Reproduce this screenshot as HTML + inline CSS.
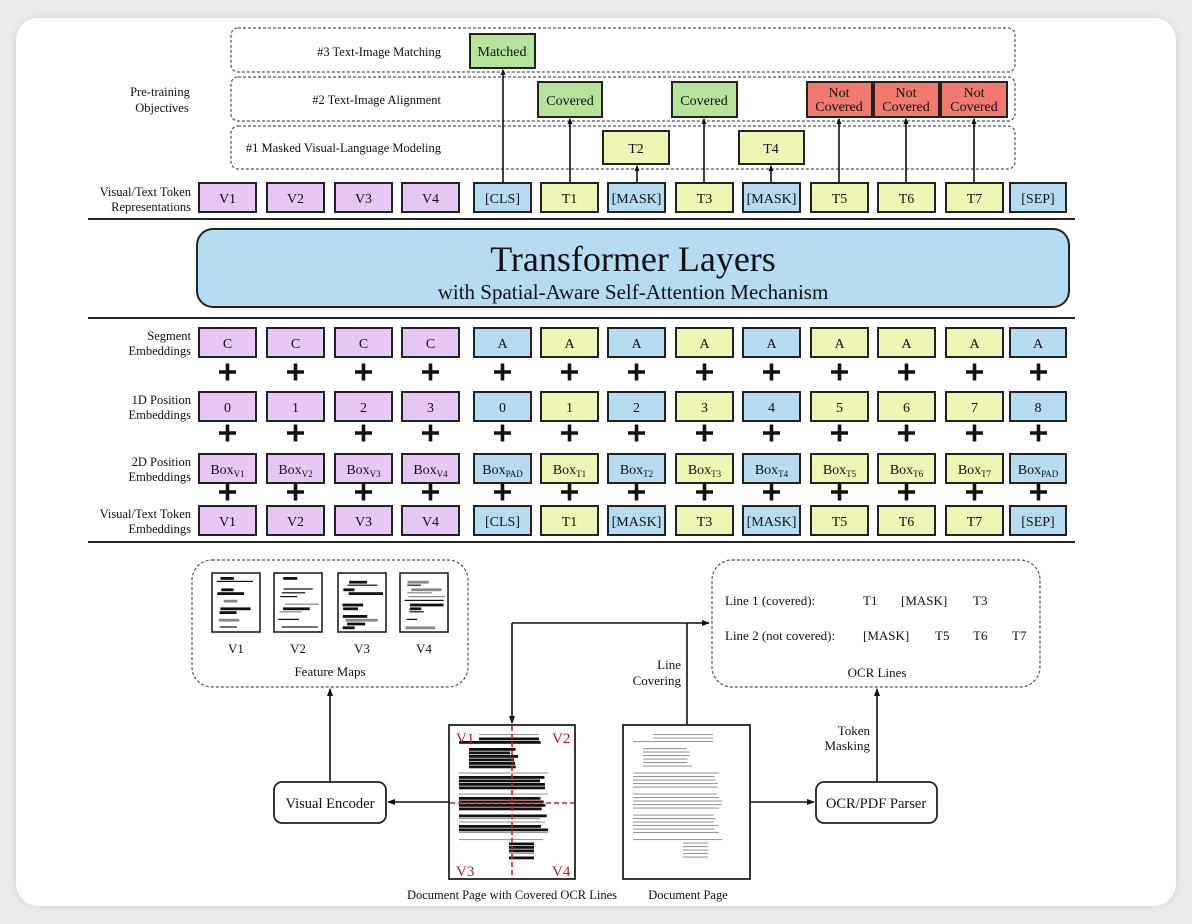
<!DOCTYPE html>
<html><head><meta charset="utf-8"><style>
html,body{margin:0;padding:0;background:#ececec;}
.card{position:absolute;left:16px;top:18px;width:1160px;height:888px;background:#fff;border-radius:22px;box-shadow:0 0 8px rgba(0,0,0,0.12);}
svg{position:absolute;left:0;top:0;}
text{font-family:"Liberation Serif",serif;fill:#111;}
</style></head><body>
<div class="card"></div>
<svg width="1192" height="924" viewBox="0 0 1192 924">
<defs>
<marker id="ah" markerWidth="8" markerHeight="8" refX="7" refY="4" orient="auto" markerUnits="userSpaceOnUse"><path d="M0,1 L8,4 L0,7 z" fill="#111"/></marker>
<marker id="as" markerWidth="6" markerHeight="6" refX="5" refY="3" orient="auto" markerUnits="userSpaceOnUse"><path d="M0,0.5 L6,3 L0,5.5 z" fill="#111"/></marker>
</defs>
<g fill="none" stroke="#555" stroke-width="1.2" stroke-dasharray="3,2">
<rect x="231" y="28" width="784" height="44" rx="7"/>
<rect x="231" y="77" width="784" height="44" rx="7"/>
<rect x="231" y="126" width="784" height="43" rx="7"/>
</g>
<g font-size="12.5" text-anchor="end">
<text x="441" y="56">#3 Text-Image Matching</text>
<text x="441" y="104">#2 Text-Image Alignment</text>
<text x="441" y="152">#1 Masked Visual-Language Modeling</text>
</g>
<g font-size="12.5" text-anchor="middle">
<text x="160" y="96">Pre-training</text>
<text x="162" y="112">Objectives</text>
</g>
<g stroke="#111" stroke-width="1.6" fill="none">
<line x1="503" y1="183" x2="503" y2="70" marker-end="url(#as)"/>
<line x1="570" y1="183" x2="570" y2="119" marker-end="url(#as)"/>
<line x1="637" y1="183" x2="637" y2="166" marker-end="url(#as)"/>
<line x1="704" y1="183" x2="704" y2="119" marker-end="url(#as)"/>
<line x1="771" y1="183" x2="771" y2="166" marker-end="url(#as)"/>
<line x1="839" y1="183" x2="839" y2="119" marker-end="url(#as)"/>
<line x1="906" y1="183" x2="906" y2="119" marker-end="url(#as)"/>
<line x1="974" y1="183" x2="974" y2="119" marker-end="url(#as)"/>
</g>
<g stroke="#222" stroke-width="2">
<rect x="470" y="34" width="65" height="34" fill="#b6e39a"/>
<rect x="538" y="82" width="64" height="35" fill="#b6e39a"/>
<rect x="672" y="82" width="65" height="35" fill="#b6e39a"/>
<rect x="807" y="82" width="65" height="35" fill="#f07a6e"/>
<rect x="874" y="82" width="65" height="35" fill="#f07a6e"/>
<rect x="941" y="82" width="66" height="35" fill="#f07a6e"/>
<rect x="603" y="131" width="66" height="33" fill="#eef5b5"/>
<rect x="739" y="131" width="65" height="33" fill="#eef5b5"/>
</g>
<g font-size="14" text-anchor="middle">
<text x="502" y="56">Matched</text>
<text x="570" y="105">Covered</text>
<text x="704" y="105">Covered</text>
<text x="839" y="97">Not</text><text x="839" y="111">Covered</text>
<text x="906" y="97">Not</text><text x="906" y="111">Covered</text>
<text x="974" y="97">Not</text><text x="974" y="111">Covered</text>
<text x="636" y="153">T2</text>
<text x="771" y="153">T4</text>
</g>
<g font-size="12.5" text-anchor="end">
<text x="191" y="196">Visual/Text Token</text><text x="191" y="211">Representations</text>
<text x="191" y="340">Segment</text><text x="191" y="355">Embeddings</text>
<text x="191" y="404">1D Position</text><text x="191" y="419">Embeddings</text>
<text x="191" y="466">2D Position</text><text x="191" y="481">Embeddings</text>
<text x="191" y="518">Visual/Text Token</text><text x="191" y="533">Embeddings</text>
</g>
<g stroke="#222" stroke-width="2">
<line x1="88" y1="219" x2="1075" y2="219"/>
<line x1="88" y1="318" x2="1075" y2="318"/>
<line x1="88" y1="542" x2="1075" y2="542"/>
</g>
<rect x="197" y="229" width="872" height="78" rx="16" fill="#b5dcf1" stroke="#222" stroke-width="2"/>
<text x="633" y="271" font-size="36" text-anchor="middle">Transformer Layers</text>
<text x="633" y="299" font-size="21" text-anchor="middle">with Spatial-Aware Self-Attention Mechanism</text>

<g id="rows" stroke="#222" stroke-width="2"></g>
<g id="rowtext" font-size="14" text-anchor="middle"></g>
<g id="plus" stroke="#111" stroke-width="3.6"></g>

<g fill="none" stroke="#555" stroke-width="1.2" stroke-dasharray="3,2">
<rect x="192" y="560" width="276" height="127" rx="20"/>
<rect x="712" y="560" width="328" height="127" rx="20"/>
</g>
<g id="thumbs"></g>
<g font-size="13" text-anchor="middle">
<text x="236" y="653">V1</text><text x="298" y="653">V2</text><text x="362" y="653">V3</text><text x="424" y="653">V4</text>
<text x="330" y="676">Feature Maps</text>
<text x="877" y="677">OCR Lines</text>
</g>
<g font-size="13">
<text x="725" y="605">Line 1 (covered):</text>
<text x="863" y="605">T1</text><text x="901" y="605">[MASK]</text><text x="973" y="605">T3</text>
<text x="725" y="640">Line 2 (not covered):</text>
<text x="863" y="640">[MASK]</text><text x="935" y="640">T5</text><text x="973" y="640">T6</text><text x="1012" y="640">T7</text>
</g>
<g font-size="13" text-anchor="end">
<text x="681" y="669">Line</text><text x="681" y="685">Covering</text>
<text x="870" y="735">Token</text><text x="870" y="750">Masking</text>
</g>
<g stroke="#111" stroke-width="1.6" fill="none">
<line x1="687" y1="725" x2="687" y2="623"/>
<line x1="512" y1="623" x2="709" y2="623" marker-end="url(#ah)"/>
<line x1="512" y1="623" x2="512" y2="723" marker-end="url(#ah)"/>
<line x1="449" y1="802" x2="388" y2="802" marker-end="url(#ah)"/>
<line x1="330" y1="782" x2="330" y2="689" marker-end="url(#ah)"/>
<line x1="750" y1="802" x2="814" y2="802" marker-end="url(#ah)"/>
<line x1="877" y1="782" x2="877" y2="689" marker-end="url(#ah)"/>
</g>
<rect x="274" y="782" width="112" height="41" rx="8" fill="#fff" stroke="#222" stroke-width="1.8"/>
<rect x="816" y="782" width="121" height="41" rx="8" fill="#fff" stroke="#222" stroke-width="1.8"/>
<g font-size="14.5" text-anchor="middle">
<text x="330" y="808">Visual Encoder</text>
<text x="876" y="808">OCR/PDF Parser</text>
</g>
<rect x="449" y="725" width="126" height="154" fill="#fff" stroke="#222" stroke-width="1.8"/>
<rect x="623" y="725" width="127" height="154" fill="#fff" stroke="#222" stroke-width="1.8"/>
<g id="doc1"></g>
<g id="doc2"></g>
<g stroke="#d02020" stroke-width="1.6" stroke-dasharray="5,3">
<line x1="512" y1="726" x2="512" y2="878"/>
<line x1="450" y1="803" x2="574" y2="803"/>
</g>
<g font-size="15">
<text x="456" y="743" style="fill:#c01818">V1</text>
<text x="552" y="743" style="fill:#c01818">V2</text>
<text x="456" y="876" style="fill:#c01818">V3</text>
<text x="552" y="876" style="fill:#c01818">V4</text>
</g>
<g font-size="12.5" text-anchor="middle">
<text x="512" y="899">Document Page with Covered OCR Lines</text>
<text x="688" y="899">Document Page</text>
</g>
</svg>
<script>
var NS="http://www.w3.org/2000/svg";
function el(p,t,a,txt){var e=document.createElementNS(NS,t);for(var k in a)e.setAttribute(k,a[k]);if(txt!==undefined)e.textContent=txt;document.getElementById(p).appendChild(e);return e;}
var P="#e6c8f5",B="#b5dcf1",Y="#eef5b5";
var xs=[199,267,335,402,474,541,608,676,743,811,878,946,1010];
var cols=[P,P,P,P,B,Y,B,Y,B,Y,Y,Y,B];
var tok=["V1","V2","V3","V4","[CLS]","T1","[MASK]","T3","[MASK]","T5","T6","T7","[SEP]"];
var seg=["C","C","C","C","A","A","A","A","A","A","A","A","A"];
var pos=["0","1","2","3","0","1","2","3","4","5","6","7","8"];
var sub=["V1","V2","V3","V4","PAD","T1","T2","T3","T4","T5","T6","T7","PAD"];
var rows=[[183,tok],[328,seg],[392,pos],[454,null],[506,tok]];
rows.forEach(function(r){
 for(var i=0;i<13;i++){
  var w=(i==12)?56:57;
  el("rows","rect",{x:xs[i],y:r[0],width:w,height:29,fill:cols[i]});
  var cx=xs[i]+w/2;
  if(r[1]) el("rowtext","text",{x:cx,y:r[0]+20},r[1][i]);
  else{var t=el("rowtext","text",{x:cx,y:r[0]+20});
   var a=document.createElementNS(NS,"tspan");a.textContent="Box";t.appendChild(a);
   var b=document.createElementNS(NS,"tspan");b.setAttribute("font-size","9");b.setAttribute("dy","3");b.textContent=sub[i];t.appendChild(b);}
 }
});
[372,433,492].forEach(function(y){
 for(var i=0;i<13;i++){var cx=xs[i]+28.5;
  el("plus","line",{x1:cx-8.5,y1:y,x2:cx+8.5,y2:y});el("plus","line",{x1:cx,y1:y-8.5,x2:cx,y2:y+8.5});}
});
var tx=[212,274,338,400];
var seed=7;function rnd(){seed=(seed*9301+49297)%233280;return seed/233280;}
tx.forEach(function(x,k){
 el("thumbs","rect",{x:x,y:573,width:48,height:59,fill:"#fff",stroke:"#222","stroke-width":1.6});
 for(var j=0;j<14;j++){var yy=577+j*3.8;if(rnd()<0.3)continue;
  var x0=x+4+rnd()*8, w=10+rnd()*30; if(x0+w>x+45)w=x+45-x0;
  el("thumbs","rect",{x:x0,y:yy,width:w,height:rnd()<0.55?2.8:1.2,fill:rnd()<0.7?"#111":"#888"});}
});
function doc(id,x,black){
 for(var j=0;j<36;j++){var yy=734+j*3.5; if(j==3||j==10||j==16||j==22||j==29)continue;
  var x0=x+10+(j>3&&j<10?10:0), w=90-(j>3&&j<10?40:0)-rnd()*10;
  if(j<2){x0=x+30;w=60;}
  if(j>30){x0=x+60;w=25;}
  var dark=black&&rnd()<0.7;
  el(id,"rect",{x:x0,y:yy,width:w,height:dark?2.8:1.1,fill:dark?"#111":"#999"});}
}
doc("doc1",449,true);doc("doc2",623,false);
</script>
</body></html>
